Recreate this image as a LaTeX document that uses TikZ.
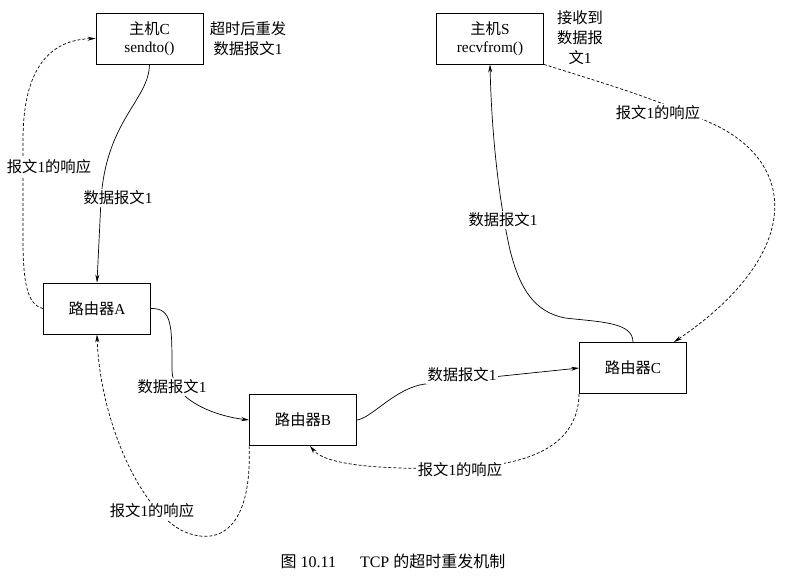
\documentclass[tikz,border=0pt]{standalone}
\usepackage{fontspec}
\setmainfont{Liberation Serif}
\newfontfamily\cjk{Noto Sans CJK SC}
\usetikzlibrary{arrows.meta}
\newcommand\zh[1]{{\cjk #1}}
\begin{document}
\begin{tikzpicture}[x=1pt,y=-1pt, font=\fontsize{15.3}{18}\selectfont,
 box/.style={draw, line width=0.8pt, minimum width=107pt, minimum height=51pt, inner sep=0pt, align=center},
 lbl/.style={fill=white, inner sep=2pt, align=center},
 note/.style={inner sep=0pt, align=center, font=\fontsize{15.3}{20}\selectfont},
 data/.style={line width=0.7pt, -{Stealth[length=8pt,width=4pt]}},
 resp/.style={data, dash pattern=on 3pt off 2pt}]
\useasboundingbox (0,0) rectangle (785,584);
% boxes
\node[box] (hC) at (149.5,38.5) {\zh{主机}C\\sendto()};
\node[box] (hS) at (490,38.5) {\zh{主机}S\\recvfrom()};
\node[box] (rA) at (97,308.5) {\zh{路由器}A};
\node[box] (rB) at (303,420) {\zh{路由器}B};
\node[box] (rC) at (633,368) {\zh{路由器}C};
% notes
\node[note] (nC) at (248,39) {\zh{超时后重发}\\\zh{数据报文}1};
\node[note] (nS) at (580,38) {\zh{接收到}\\\zh{数据报}\\\zh{文}1};
% connectors
\draw[data] (hC.south) .. controls (149,100) and (106,120) .. (101,200) -- (rA.north);
\draw[resp] (rA.west) .. controls (28,305) and (23,285) .. (23,240) -- (23,140) .. controls (23,75) and (45,40) .. (hC.west);
\draw[data] (rA.east) .. controls (172,308) and (172,325) .. (172,370) .. controls (172,400) and (215,416) .. (rB.west);
\draw[data] (rB.east) .. controls (372,418) and (395,388) .. (425,384) -- (rC.west);
\draw[data] (rC.north) .. controls (633,322) and (600,322) .. (565,318) .. controls (535,312) and (520,290) .. (510,250) .. controls (502,215) and (492,150) .. (hS.south);
\draw[resp] (hS.south east) .. controls (600,82) and (650,97) .. (690,115) .. controls (800,150) and (810,250) .. ([xshift=-13pt]rC.north east);
\draw[resp] (rC.south west) .. controls (578,440) and (540,465) .. (460,468) .. controls (380,470) and (325,465) .. ([xshift=7pt]rB.south);
\draw[resp] (rB.south west) .. controls (252,520) and (225,548) .. (185,532) .. controls (140,512) and (100,420) .. (rA.south);
% labels
\node[lbl] (l1) at (118,198) {\zh{数据报文}1};
\node[lbl] (l2) at (49,167) {\zh{报文}1\zh{的响应}};
\node[lbl] (l3) at (172,387) {\zh{数据报文}1};
\node[lbl] (l4) at (462,375) {\zh{数据报文}1};
\node[lbl] (l5) at (503,220) {\zh{数据报文}1};
\node[lbl] (l6) at (658,113) {\zh{报文}1\zh{的响应}};
\node[lbl] (l7) at (460,470) {\zh{报文}1\zh{的响应}};
\node[lbl] (l8) at (152,511) {\zh{报文}1\zh{的响应}};
% caption
\node[font=\fontsize{16}{18}\selectfont] (cap) at (393,561) {\zh{图} 10.11\hspace{1.5em}TCP \zh{的超时重发机制}};
\end{tikzpicture}
\end{document}
